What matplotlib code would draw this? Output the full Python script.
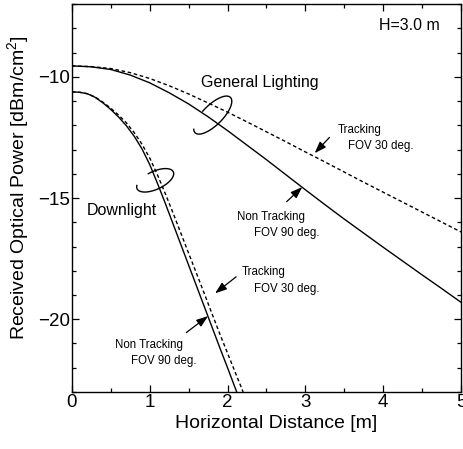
import numpy as np
import matplotlib
matplotlib.use("Agg")
import matplotlib.pyplot as plt

plt.rcParams["font.family"] = ["Liberation Sans", "DejaVu Sans"]
plt.rcParams["mathtext.fontset"] = "custom"
plt.rcParams["mathtext.rm"] = "Liberation Sans"
plt.rcParams["mathtext.it"] = "Liberation Sans"

# General lighting: received power vs horizontal distance
gen_x = [0.0, 0.25, 0.5, 0.75, 1.0, 1.25, 1.5, 1.75, 2.0, 2.25, 2.5,
         2.75, 3.0, 3.25, 3.5, 3.75, 4.0, 4.25, 4.5, 4.75, 5.0]
gen_nontrack = [-9.55, -9.59, -9.70, -9.93, -10.25, -10.66, -11.12, -11.65, -12.22,
                -12.82, -13.42, -14.04, -14.66, -15.27, -15.87, -16.45, -17.03,
                -17.6, -18.17, -18.73, -19.3]
gen_track = [-9.55, -9.58, -9.66, -9.83, -10.07, -10.37, -10.71, -11.08, -11.46,
             -11.86, -12.27, -12.68, -13.1, -13.51, -13.93, -14.35, -14.76,
             -15.17, -15.58, -15.99, -16.4]

# Downlight: received power vs horizontal distance
down_x = [0.0, 0.1, 0.2, 0.3, 0.4, 0.5, 0.6, 0.7, 0.8, 0.9, 1.0, 1.1, 1.2,
          1.3, 1.4, 1.5, 1.6, 1.7, 1.8, 1.9, 2.0, 2.1, 2.2]
down_nontrack = [-10.62, -10.64, -10.7, -10.85, -11.08, -11.35, -11.66, -12.02, -12.45,
                 -12.97, -13.62, -14.4, -15.22, -16.07, -16.92, -17.77, -18.62, -19.47,
                 -20.32, -21.17, -22.0, -22.85, -23.7]
down_track = [-10.62, -10.64, -10.7, -10.84, -11.05, -11.3, -11.58, -11.9, -12.3,
              -12.78, -13.35, -14.05, -14.82, -15.62, -16.45, -17.28, -18.1, -18.93,
              -19.77, -20.6, -21.4, -22.2, -23.0]

x_ticks = [0, 1, 2, 3, 4, 5]
y_ticks = [-20, -15, -10]

fig = plt.figure(figsize=(4.64, 4.49), dpi=100)
ax = fig.add_axes([0.155, 0.127, 0.8385, 0.864])

line_kw = dict(color="black", lw=1.0)
dash = (0, (2.6, 1.9))
ax.plot(gen_x, gen_nontrack, **line_kw)
ax.plot(gen_x, gen_track, linestyle=dash, **line_kw)
ax.plot(down_x, down_nontrack, **line_kw)
ax.plot(down_x, down_track, linestyle=dash, **line_kw)

ax.set_xlim(0, 5)
ax.set_ylim(-23, -7)
ax.set_xticks(x_ticks)
ax.set_yticks(y_ticks)
ax.set_xticks(np.arange(0, 5.01, 0.5), minor=True)
ax.set_yticks(np.arange(-23, -6.9, 1), minor=True)
ax.tick_params(which="both", direction="in", top=True, right=True, labelsize=13.5, width=0.9)
ax.tick_params(which="major", length=5, pad=1.5)
ax.tick_params(which="minor", length=2.8)
for s in ax.spines.values():
    s.set_linewidth(1.0)

ax.set_xlabel("Horizontal Distance [m]", fontsize=14)
ax.set_ylabel("Received Optical Power [dBm/cm$^{2}$]", fontsize=14)
ax.xaxis.set_label_coords(0.524, -0.06)
ax.yaxis.set_label_coords(-0.106, 0.527)

ax.text(4.73, -7.87, "H=3.0 m", fontsize=11.5, ha="right", va="center")
ax.text(2.42, -10.22, "General Lighting", fontsize=11.5, ha="center", va="center")
ax.text(0.19, -15.5, "Downlight", fontsize=11.5, ha="left", va="center")

# Loop symbols grouping each pair of curves (sizes in pixels)
px_x = 77.8
px_y = 24.25


def loop(cx, cy, a, b, angle, gap_start, gap_end):
    th = np.radians(np.linspace(gap_end, gap_start + 360, 200))
    phi = np.radians(angle)
    dx = a * np.cos(th) * np.cos(phi) - b * np.sin(th) * np.sin(phi)
    dy = a * np.cos(th) * np.sin(phi) + b * np.sin(th) * np.cos(phi)
    ax.plot(cx + dx / px_x, cy + dy / px_y, color="black", lw=1.0)


loop(1.81, -11.58, 25, 10, 45, 100, 160)
loop(1.07, -14.27, 20, 9, 25, 100, 160)

ann_kw = dict(arrowprops=dict(arrowstyle="-|>,head_length=0.7,head_width=0.25",
                              color="black", lw=0.9, shrinkA=0, shrinkB=0))
small = 8.3

ax.annotate("", xy=(3.12, -13.15), xytext=(3.31, -12.5), **ann_kw)
ax.text(3.41, -12.2, "Tracking", fontsize=small, ha="left", va="center")
ax.text(3.55, -12.87, "FOV 30 deg.", fontsize=small, ha="left", va="center")

ax.annotate("", xy=(2.96, -14.55), xytext=(2.76, -15.15), **ann_kw)
ax.text(2.12, -15.78, "Non Tracking", fontsize=small, ha="left", va="center")
ax.text(2.34, -16.45, "FOV 90 deg.", fontsize=small, ha="left", va="center")

ax.annotate("", xy=(1.84, -18.93), xytext=(2.11, -18.25), **ann_kw)
ax.text(2.18, -18.05, "Tracking", fontsize=small, ha="left", va="center")
ax.text(2.34, -18.75, "FOV 30 deg.", fontsize=small, ha="left", va="center")

ax.annotate("", xy=(1.75, -19.87), xytext=(1.47, -20.55), **ann_kw)
ax.text(0.55, -21.05, "Non Tracking", fontsize=small, ha="left", va="center")
ax.text(0.76, -21.72, "FOV 90 deg.", fontsize=small, ha="left", va="center")

fig.savefig("out.png", dpi=100)
